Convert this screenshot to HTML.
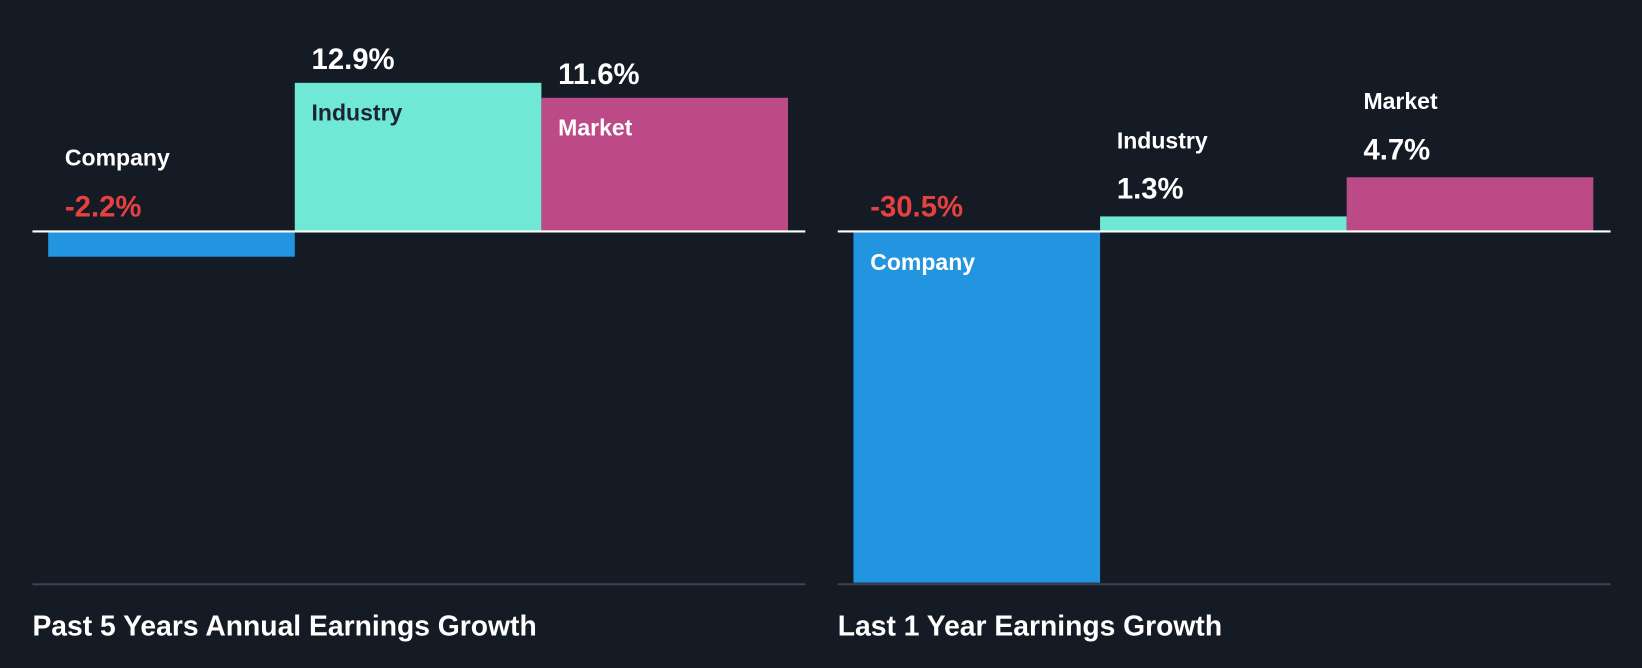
<!DOCTYPE html>
<html><head><meta charset="utf-8"><style>
html,body{margin:0;padding:0;background:#151b24;}
svg{display:block;font-family:"Liberation Sans",sans-serif;font-weight:bold;}
</style></head><body>
<svg id="chart" width="1642" height="668" viewBox="0 0 1568 638" preserveAspectRatio="none" xmlns="http://www.w3.org/2000/svg">
<rect x="0" y="0" width="1568" height="638" fill="#151b24"/>
</svg>
<script>
const categories = ["Company", "Industry", "Market"];
const pastFiveYearValues = [-2.2, 12.9, 11.6];
const lastYearValues = [-30.5, 1.3, 4.7];
const panelTitles = ["Past 5 Years Annual Earnings Growth", "Last 1 Year Earnings Growth"];

const svg = document.getElementById('chart');
const NS = 'http://www.w3.org/2000/svg';
const colors = ["#2394df", "#6fe8d6", "#bb4a86"];
const baseY = 221, pxPerPct = 11.0;
function yScale(v){ return baseY - v * pxPerPct; }
function mk(tag, attrs){ const e = document.createElementNS(NS, tag); for (const k in attrs) e.setAttribute(k, attrs[k]); svg.appendChild(e); return e; }
function fmt(v){ return v.toFixed(1) + '%'; }

function drawPanel(x0, values, title, key){
  const barStart = x0 + 15, barW = 235.5;
  values.forEach((v, i) => {
    const bx = barStart + i * barW;
    const top = Math.min(yScale(v), baseY), h = Math.abs(yScale(v) - baseY);
    const r = mk('rect', {x: bx, y: top, width: barW, height: h, fill: colors[i]});
    
    
    let labelY, valueY, labelFill = '#ffffff';
    if (v >= 0) {
      if (h > 60) { valueY = top - 13; labelY = top + 36; if (i === 1) labelFill = '#1c2430'; }
      else { valueY = top - 17; labelY = top - 65; }
    } else {
      valueY = baseY - 14;
      if (h > 60) labelY = baseY + 37; else labelY = baseY - 63;
    }
    const lab = mk('text', {x: bx + 16, y: labelY, fill: labelFill, 'font-size': 22});
    lab.textContent = categories[i];
    
    
    const val = mk('text', {x: bx + 16, y: valueY, fill: v < 0 ? '#e64141' : '#ffffff', 'font-size': 28});
    val.textContent = fmt(v);
    
    
  });
  const zl = mk('line', {x1: x0, x2: x0 + 738, y1: baseY, y2: baseY, stroke: '#ffffff', 'stroke-width': 2});
  
  
  const bl = mk('line', {x1: x0, x2: x0 + 738, y1: 558, y2: 558, stroke: '#3f4550', 'stroke-width': 2});
  
  
  const t = mk('text', {x: x0, y: 607, fill: '#ffffff', 'font-size': 27});
  t.textContent = title;
  
  
}
drawPanel(31, pastFiveYearValues, panelTitles[0], 'past-5-years');
drawPanel(800, lastYearValues, panelTitles[1], 'last-1-year');
</script>
</body></html>
